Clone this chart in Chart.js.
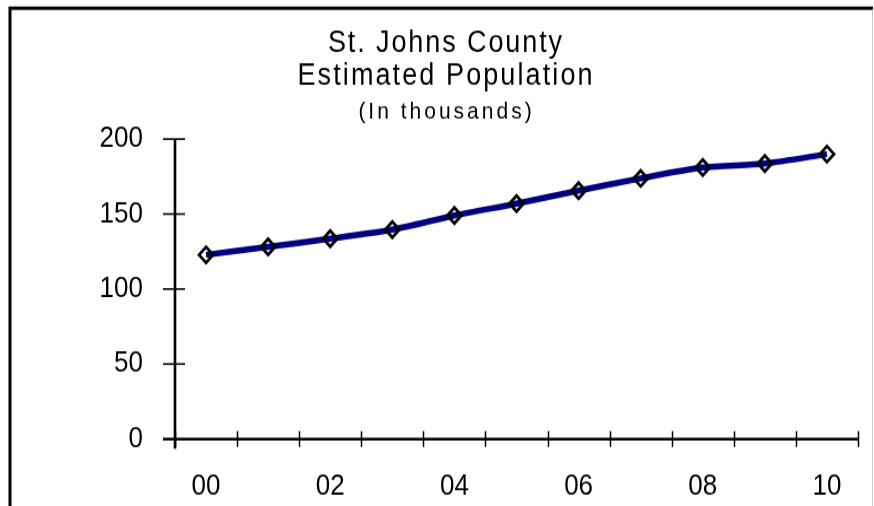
<!DOCTYPE html>
<html>
<head>
<meta charset="utf-8">
<script src="https://cdn.jsdelivr.net/npm/chart.js@4/dist/chart.umd.min.js"></script>
<style>
  html, body { margin: 0; padding: 0; background: #fff; width: 874px; height: 506px; }
  #outer { width: 874px; height: 506px; position: relative; }
  #wrap { position: absolute; left: 0; top: 0; width: 874px; height: 448px;
          transform: scale(1, 1.1295); transform-origin: 0 0; }
</style>
</head>
<body>
<div id="outer"><div id="wrap"><canvas id="c" width="874" height="448"></canvas></div></div>
<script>
// Years (two-digit) and estimated population in thousands
const years = ['00', '01', '02', '03', '04', '05', '06', '07', '08', '09', '10'];
const population = [122.8, 128.2, 133.6, 139.6, 149.0, 157.0, 165.6, 173.8, 181.0, 183.7, 190.0];
const yTicks = [0, 50, 100, 150, 200];
const titleLines = ['St. Johns County', 'Estimated Population'];
const subtitleText = '(In thousands)';

const FONT = "'Liberation Sans', Arial, sans-serif";

// Heading lines, drawn with a little letter spacing above the plot
const heading = {
  id: 'heading',
  afterDraw(chart) {
    const { ctx } = chart;
    const cx = 445;
    const lines = [
      { text: titleLines[0], size: 27, base: 46, spacing: 1.9 },
      { text: titleLines[1], size: 27, base: 75.3, spacing: 2.1 },
      { text: subtitleText, size: 21, base: 104.5, spacing: 3.0 }
    ];
    ctx.save();
    ctx.fillStyle = '#000';
    ctx.textAlign = 'center';
    ctx.textBaseline = 'alphabetic';
    lines.forEach(l => {
      ctx.font = `${l.size}px ${FONT}`;
      ctx.letterSpacing = `${l.spacing}px`;
      ctx.fillText(l.text, cx + l.spacing / 2, l.base);
    });
    ctx.restore();
  }
};

// Border around the drawing plus axis lines with ticks crossing both sides
const frameAndAxes = {
  id: 'frameAndAxes',
  beforeDatasetsDraw(chart) {
    const { ctx, chartArea: a, scales: { x, y } } = chart;
    const line = (x1, y1, x2, y2) => {
      ctx.beginPath(); ctx.moveTo(x1, y1); ctx.lineTo(x2, y2); ctx.stroke();
    };
    ctx.save();
    ctx.strokeStyle = '#000';
    ctx.lineCap = 'butt';

    // value-axis ticks
    ctx.lineWidth = 1.6;
    yTicks.forEach(v => {
      const py = y.getPixelForValue(v);
      line(a.left - 12, py, a.left + 10, py);
    });
    // category boundaries
    ctx.lineWidth = 1.5;
    for (let i = 0; i <= years.length; i++) {
      const px = Math.round(x.getPixelForValue(i - 0.5)) + 0.5;
      line(px, a.bottom - 7, px, a.bottom + 7);
    }
    // axis lines
    ctx.lineWidth = 2.6;
    line(a.left, y.getPixelForValue(yTicks[yTicks.length - 1]), a.left, a.bottom + 8.5);
    ctx.lineWidth = 2.4;
    line(a.left - 12, a.bottom, a.right, a.bottom);
    ctx.restore();
  },
  afterDraw(chart) {
    const { ctx, width, height } = chart;
    ctx.save();
    ctx.strokeStyle = '#000';
    ctx.lineWidth = 3;
    ctx.beginPath();
    ctx.moveTo(10, height);
    ctx.lineTo(10, 7.2);
    ctx.lineTo(width - 1, 7.2);
    ctx.stroke();
    ctx.strokeStyle = '#c8c8c8';
    ctx.lineWidth = 1;
    ctx.beginPath();
    ctx.moveTo(width - 1.5, 8.5);
    ctx.lineTo(width - 1.5, height);
    ctx.stroke();
    ctx.restore();
  }
};

new Chart(document.getElementById('c'), {
  type: 'line',
  data: {
    labels: years,
    datasets: [{
      data: population,
      borderColor: '#000080',
      borderWidth: 5.5,
      tension: 0.25,
      pointStyle: 'rectRot',
      pointRadius: 7,
      pointBorderWidth: 2.8,
      pointBorderColor: '#000',
      pointBackgroundColor: 'rgba(0,0,0,0)',
      fill: false
    }]
  },
  options: {
    responsive: false,
    animation: false,
    layout: { padding: { left: 0, right: 16, top: 123.1, bottom: 0 } },
    plugins: {
      legend: { display: false },
      tooltip: { enabled: false },
      title: { display: false }
    },
    scales: {
      x: {
        type: 'category',
        offset: true,
        grid: { display: false, drawTicks: false, offset: true },
        border: { display: false },
        ticks: {
          autoSkip: false,
          maxRotation: 0,
          color: '#000',
          padding: 26.5,
          font: { family: FONT, size: 26 },
          callback: (v, i) => (i % 2 === 0 ? years[i] : '')
        },
        afterFit: s => { s.height = 448 - 388.7; }
      },
      y: {
        min: 0,
        max: 200,
        grid: { display: false, drawTicks: false },
        border: { display: false },
        ticks: {
          stepSize: 50,
          color: '#000',
          padding: 32,
          font: { family: FONT, size: 26 }
        },
        afterFit: s => { s.width = 175; }
      }
    }
  },
  plugins: [frameAndAxes, heading]
});
</script>
</body>
</html>
